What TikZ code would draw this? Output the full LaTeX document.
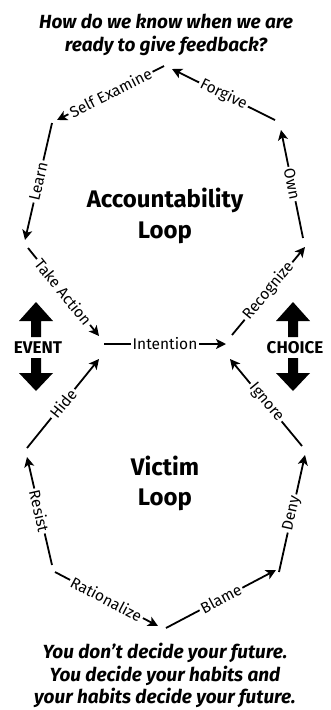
\documentclass[tikz,border=0pt]{standalone}
\usepackage{fontspec}
\setmainfont{Fira Sans}
\usetikzlibrary{arrows.meta}
\begin{document}
\begin{tikzpicture}[x=1pt,y=-1pt,
  conn/.style={line width=1.8pt, -{Stealth[length=10pt,width=10pt,inset=2.5pt]}},
  lbl/.style={midway, sloped, fill=white, inner xsep=2pt, inner ysep=0.5pt, font=\fontsize{15.5}{17}\selectfont},
  quote/.style={anchor=base, font=\fontsize{19}{22}\selectfont\bfseries\itshape},
  loopname/.style={anchor=base, font=\fontsize{24}{28}\selectfont\bfseries},
  side/.style={anchor=base, font=\fontsize{17}{19}\selectfont\bfseries},
  bigarrow/.style={fill=black}]
\useasboundingbox (0,0) rectangle (330,710);
\fill[white] (0,0) rectangle (330,710);
% quotes
\node[quote] (q1) at (166,28) {How do we know when we are};
\node[quote] (q2) at (166,51) {ready to give feedback?};
\node[quote] (b1) at (165,658) {You don’t decide your future.};
\node[quote] (b2) at (165,681) {You decide your habits and};
\node[quote] (b3) at (165,703) {your habits decide your future.};
% loop names
\node[loopname] (acc1) at (165,207) {Accountability};
\node[loopname] (acc2) at (165,238) {Loop};
\node[loopname] (vic1) at (165,475) {Victim};
\node[loopname] (vic2) at (165,505) {Loop};
% side labels
\node[side] (event) at (38,353) {EVENT};
\node[side] (choice) at (295,353) {CHOICE};
% big arrows
\fill[bigarrow] (31,337) -- (31,321) -- (19,321) -- (36,302) -- (53,321) -- (41,321) -- (41,337) -- cycle;
\fill[bigarrow] (31,358) -- (31,373) -- (19,373) -- (36,391) -- (53,373) -- (41,373) -- (41,358) -- cycle;
\fill[bigarrow] (288,337) -- (288,321) -- (276,321) -- (293,302) -- (310,321) -- (298,321) -- (298,337) -- cycle;
\fill[bigarrow] (288,358) -- (288,373) -- (276,373) -- (293,391) -- (310,373) -- (298,373) -- (298,358) -- cycle;
% endpoints, accountability loop
\coordinate (seS) at (164,66);  \coordinate (seE) at (57,120);
\coordinate (leS) at (52,123);  \coordinate (leE) at (25,240);
\coordinate (taS) at (28,248);  \coordinate (taE) at (99,336);
\coordinate (inS) at (104,344); \coordinate (inE) at (226,344);
\coordinate (reS) at (232,335); \coordinate (reE) at (305,247);
\coordinate (owS) at (303,238); \coordinate (owE) at (281,130);
\coordinate (foS) at (275,120); \coordinate (foE) at (172,69);
% endpoints, victim loop
\coordinate (raS) at (55,572);  \coordinate (raE) at (158,626);
\coordinate (blS) at (166,628); \coordinate (blE) at (276,570);
\coordinate (deS) at (279,572); \coordinate (deE) at (305,455);
\coordinate (igS) at (302,446); \coordinate (igE) at (230,359);
\coordinate (hiS) at (27,448);  \coordinate (hiE) at (99,359);
\coordinate (rsS) at (52,565);  \coordinate (rsE) at (27,457);
% connectors
\draw[conn] (seS) -- node[lbl] {Self Examine} (seE);
\draw[conn] (leS) -- node[lbl] {Learn} (leE);
\draw[conn] (taS) -- node[lbl] {Take Action} (taE);
\draw[conn] (inS) -- node[lbl] {Intention} (inE);
\draw[conn] (reS) -- node[lbl] {Recognize} (reE);
\draw[conn] (owS) -- node[lbl] {Own} (owE);
\draw[conn] (foS) -- node[lbl] {Forgive} (foE);
\draw[conn] (raS) -- node[lbl] {Rationalize} (raE);
\draw[conn] (blS) -- node[lbl] {Blame} (blE);
\draw[conn] (deS) -- node[lbl] {Deny} (deE);
\draw[conn] (igS) -- node[lbl] {Ignore} (igE);
\draw[conn] (hiS) -- node[lbl] {Hide} (hiE);
\draw[conn] (rsS) -- node[lbl] {Resist} (rsE);
\end{tikzpicture}
\end{document}
